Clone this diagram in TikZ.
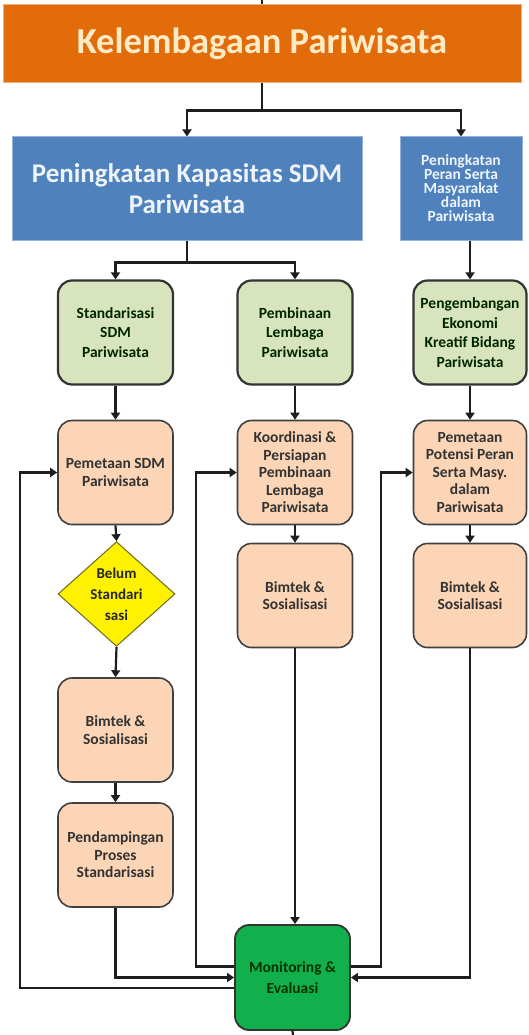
\documentclass[tikz,border=0pt]{standalone}
\usepackage{fontspec}
\setmainfont{Carlito}
\usetikzlibrary{calc}
\usetikzlibrary{shapes.geometric,arrows.meta}
\definecolor{headorange}{HTML}{E36C0A}
\definecolor{headtext}{HTML}{FDEBC6}
\definecolor{boxblue}{HTML}{4F81BD}
\definecolor{bluetext}{HTML}{EEF4FB}
\definecolor{lightgreen}{HTML}{D7E4BD}
\definecolor{peach}{HTML}{FBD5B5}
\definecolor{darkgreen}{HTML}{12B04C}
\definecolor{linkgray}{HTML}{1E1E1E}
\tikzset{
	% box styles for the flow chart: head, blue, green, peach, decision
	head box/.style={rectangle,fill=headorange,draw=headorange!55!white,line width=1pt,text=headtext,inner sep=0,
		minimum width=518pt,minimum height=78pt,font=\fontsize{36.5}{40}\selectfont\bfseries},
	blue box/.style={rectangle,fill=boxblue,draw=boxblue!60!white,line width=1pt,text=bluetext,align=center,inner sep=0,
		minimum height=103pt},
	green box/.style={rectangle,rounded corners=14pt,fill=lightgreen,draw=black!80,line width=2.2pt,text=black!85!green,
		align=center,inner sep=0,minimum width=115pt,minimum height=104pt,font=\fontsize{15.5}{19.5}\selectfont\bfseries},
	peach box/.style={rectangle,rounded corners=14pt,fill=peach,draw=black!75,line width=1.6pt,text=black!80,
		align=center,inner sep=0,minimum width=115pt,minimum height=104pt,font=\fontsize{15.5}{17.5}\selectfont\bfseries},
	decision node/.style={diamond,fill=yellow,draw=olive!70!black,line width=1pt,text=black!85,align=center,inner sep=0,
		minimum width=117pt,minimum height=102pt,font=\fontsize{15}{21}\selectfont\bfseries},
	monitor box/.style={rectangle,rounded corners=14pt,fill=darkgreen,draw=black!80,line width=1.8pt,text=green!20!black,
		align=center,inner sep=0,minimum width=115pt,minimum height=105pt,font=\fontsize{15.5}{21}\selectfont\bfseries},
	% connectors
	flow/.style={draw=linkgray,line width=2.2pt},
	>={Triangle[width=9pt,length=7pt]}
}
\begin{document}
\begin{tikzpicture}[x=1pt,y=-1pt]
	\useasboundingbox (0,0) rectangle (529,1035);
	% top level
	\node(0)[head box] at (262,44){Kelembagaan Pariwisata};
	\node(1)[blue box,minimum width=350pt,font=\fontsize{27}{31}\selectfont\bfseries] at (187,188.5){Peningkatan Kapasitas SDM\\Pariwisata};
	\node(2)[blue box,minimum width=122pt,font=\fontsize{15.5}{14}\selectfont\bfseries] at (461,188.5){Peningkatan\\Peran Serta\\Masyarakat\\dalam\\Pariwisata};
	% programmes
	\node(1-1)[green box] at (115.5,332.5){Standarisasi\\SDM\\Pariwisata};
	\node(1-2)[green box] at (295,332.5){Pembinaan\\Lembaga\\Pariwisata};
	\node(2-1)[green box,minimum width=113pt] at (470,332.5){Pengembangan\\Ekonomi\\Kreatif Bidang\\Pariwisata};
	% activities
	\node(1-1-1)[peach box] at (115.5,472.5){Pemetaan SDM\\Pariwisata};
	\node(1-1-2)[decision node] at (116.5,594){Belum\\Standari\\sasi};
	\node(1-1-3)[peach box] at (115.5,730){Bimtek \&\\Sosialisasi};
	\node(1-1-4)[peach box] at (115.5,855){Pendampingan\\Proses\\Standarisasi};
	\node(1-2-1)[peach box] at (295,472.5){Koordinasi \&\\Persiapan\\Pembinaan\\Lembaga\\Pariwisata};
	\node(1-2-2)[peach box] at (295,595.5){Bimtek \&\\Sosialisasi};
	\node(2-1-1)[peach box,minimum width=113pt] at (470,472.5){Pemetaan\\Potensi Peran\\Serta Masy.\\dalam\\Pariwisata};
	\node(2-1-2)[peach box,minimum width=113pt] at (470,595.5){Bimtek \&\\Sosialisasi};
	\node(m)[monitor box] at (292.5,977.5){Monitoring \&\\Evaluasi};
	
	% stubs at the page edges
	\coordinate(top) at (262,0);
	\coordinate(bottom) at (293,1035);
	\draw[flow] (top) -- (0.north);
	\draw[flow] (m.south) -- (bottom);
	% branches
	\draw[flow] (0.south) -- ++(0,27) coordinate(b0);
	\draw[flow,->] (b0) -| (1.north);
	\draw[flow,->] (b0) -| (2.north);
	\draw[flow] (1.south) -- ++(0,22) coordinate(b1);
	\draw[flow,->] (b1) -| (1-1.north);
	\draw[flow,->] (b1) -| (1-2.north);
	\draw[flow,->] (2-1.north |- 2.south) -- (2-1.north);
	% steps down each column
	\foreach \a/\b in {1-1/1-1-1,1-1-1/1-1-2,1-1-2/1-1-3,1-1-3/1-1-4,1-2/1-2-1,1-2-1/1-2-2,2-1/2-1-1,2-1-1/2-1-2}
		\draw[flow,->] (\a.south) -- (\b.north);
	% into monitoring
	\draw[flow,->] (1-2-2.south) -- (1-2-2.south |- m.north);
	\draw[flow,->] (1-1-4.south) |- (m.west);
	\draw[flow,->] (2-1-2.south) |- (m.east);
	% feedback loops
	\draw[flow,->] ([yshift=-10.5pt]m.west) -- ++(-214,0) |- (1-1-1.west);
	\draw[flow,->] ([yshift=11pt]m.west) -- ++(-38,0) |- (1-2-1.west);
	\draw[flow,->] ([yshift=11pt]m.east) -- ++(30,0) |- (2-1-1.west);
\end{tikzpicture}
\end{document}
